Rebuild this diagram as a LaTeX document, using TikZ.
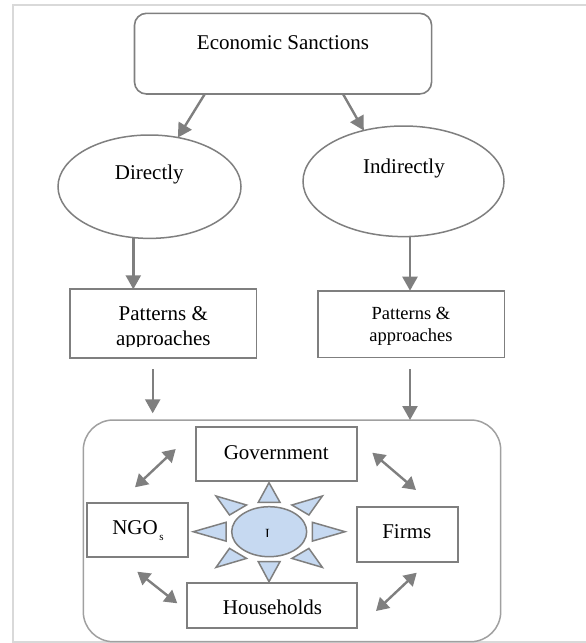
\documentclass[tikz,border=0pt]{standalone}
\usepackage{fontspec}
\setmainfont{Liberation Serif}
\usetikzlibrary{arrows.meta,shapes.geometric}
\definecolor{linegray}{HTML}{7F7F7F}
\definecolor{framegray}{HTML}{D9D9D9}
\definecolor{groupgray}{HTML}{A0A0A0}
\definecolor{sunblue}{HTML}{C6D9F1}
\begin{document}
\begin{tikzpicture}[x=1pt,y=-1pt,
  every node/.style={inner sep=0pt, outer sep=0pt},
  box/.style={draw=linegray, line width=1.8pt, rectangle},
  roundbox/.style={draw=linegray, line width=1.6pt, rectangle, rounded corners=12pt},
  oval/.style={draw=linegray, line width=1.5pt, ellipse},
  txt/.style={font=\fontsize{21}{25}\selectfont, anchor=base},
  smalltxt/.style={font=\fontsize{18.5}{22}\selectfont, anchor=base},
  arr/.style={draw=linegray, line width=2.4pt, -{Triangle[length=14pt,width=15pt]}},
  darr/.style={draw=linegray, line width=2.4pt, {Triangle[length=12.5pt,width=14.5pt]}-{Triangle[length=12.5pt,width=14.5pt]}},
  ray/.style={draw=linegray, line width=1.5pt, fill=sunblue, line join=miter}
]
\useasboundingbox (0,0) rectangle (586,643);

% page frame
\draw[framegray, line width=2pt] (586,4.7) -- (13,4.7) -- (13,642.3) -- (586,642.3);

% top level
\node[roundbox, minimum width=297.1pt, minimum height=80.7pt] (es) at (283.05,53.65) {};
\node[txt] (tes) at (283,49.5) {Economic Sanctions};

\node[oval, minimum width=183pt, minimum height=103.4pt] (dir) at (149.5,186.7) {};
\node[txt] (tdir) at (149.3,179) {Directly};
\node[oval, minimum width=201pt, minimum height=110.6pt] (ind) at (403.5,181.3) {};
\node[txt] (tind) at (404,173) {Indirectly};

\draw[arr] ([xshift=-78.25pt]es.south) -- (dir.60);
\draw[arr] ([xshift=59.95pt]es.south) -- (ind.128);

% patterns boxes
\node[box, minimum width=186.1pt, minimum height=68.4pt] (pl) at (163.35,323.5) {};
\begin{scope}
  \clip (70,289) rectangle (257,346.6);
  \node[txt] (tpl1) at (163.3,320.5) {Patterns \&};
  \node[txt] (tpl2) at (163.3,345.6) {approaches};
\end{scope}
\node[box, minimum width=186.9pt, minimum height=66.8pt] (pr) at (411.05,324.1) {};
\node[smalltxt] (tpr1) at (411,319.5) {Patterns \&};
\node[smalltxt] (tpr2) at (411,341.5) {approaches};

\path ([xshift=-16.2pt]dir.south) coordinate (d1);
\draw[arr] (d1) -- (d1 |- pl.north);
\path ([xshift=6.5pt]ind.south) coordinate (d2);
\draw[arr] (d2) -- (d2 |- pr.north);

% group of actors
\node[draw=groupgray, line width=1.5pt, rectangle, rounded corners=30pt,
      minimum width=417.4pt, minimum height=221.7pt] (grp) at (292,530.85) {};

\path ([xshift=-10.65pt,yshift=-11.6pt]pl.south) coordinate (l1);
\draw[arr] (l1) -- ([yshift=6.7pt]l1 |- grp.north);
\path ([xshift=-1.05pt,yshift=-11.8pt]pr.south) coordinate (l2);
\draw[arr] (l2) -- (l2 |- grp.north);

\node[box, minimum width=161.3pt, minimum height=53.7pt] (gov) at (276.65,454.15) {};
\node[txt] (tgov) at (276.3,459.5) {Government};
\node[box, minimum width=101pt, minimum height=54.6pt] (ngo) at (137.8,530) {};
\node[txt, anchor=base west] (tngo) at (112.3,534) {NGO\kern1.5pt\raisebox{-6.5pt}{\fontsize{11}{11}\selectfont s}};
\node[box, minimum width=101.6pt, minimum height=55pt] (firm) at (407.5,534.8) {};
\node[txt] (tfirm) at (406.8,538) {Firms};
\node[box, minimum width=170pt, minimum height=45pt] (hh) at (272.3,605.8) {};
\node[txt] (thh) at (272.5,614.5) {Households};

% two-way links between actors
\coordinate (ng1) at (135,487.3);   \coordinate (ng2) at (175.7,449);
\coordinate (gf1) at (372.3,452.7); \coordinate (gf2) at (416,490);
\coordinate (nh1) at (137.3,571.7); \coordinate (nh2) at (177.3,603.3);
\coordinate (fh1) at (416.7,572.7); \coordinate (fh2) at (376,611);
\draw[darr] (ng1) -- (ng2);
\draw[darr] (gf1) -- (gf2);
\draw[darr] (nh1) -- (nh2);
\draw[darr] (fh1) -- (fh2);

% central sun
\draw[ray] (258.3,502.3) -- (280,502.3) -- (269,482.7) -- cycle;
\draw[ray] (258.3,561.7) -- (280,561.7) -- (269,581.7) -- cycle;
\draw[ray] (226,522.3) -- (226,541.1) -- (193.3,531.7) -- cycle;
\draw[ray] (312.3,522.3) -- (312.3,541.1) -- (345,531.7) -- cycle;
\draw[ray] (216,496) -- (246.5,505) -- (229.5,515) -- cycle;
\draw[ray] (322.4,496) -- (291.9,505) -- (308.9,515) -- cycle;
\draw[ray] (216,567.4) -- (246.5,558.4) -- (229.5,548.4) -- cycle;
\draw[ray] (322.4,567.4) -- (291.9,558.4) -- (308.9,548.4) -- cycle;
\node[oval, fill=sunblue, minimum width=75pt, minimum height=50pt] (core) at (269.2,531.7) {};
\begin{scope}
  \clip (255,520) rectangle (285,536.4);
  \node[anchor=base, font=\fontsize{14}{16}\selectfont] (tcore) at (267.5,538.2) {I};
\end{scope}
\end{tikzpicture}
\end{document}
